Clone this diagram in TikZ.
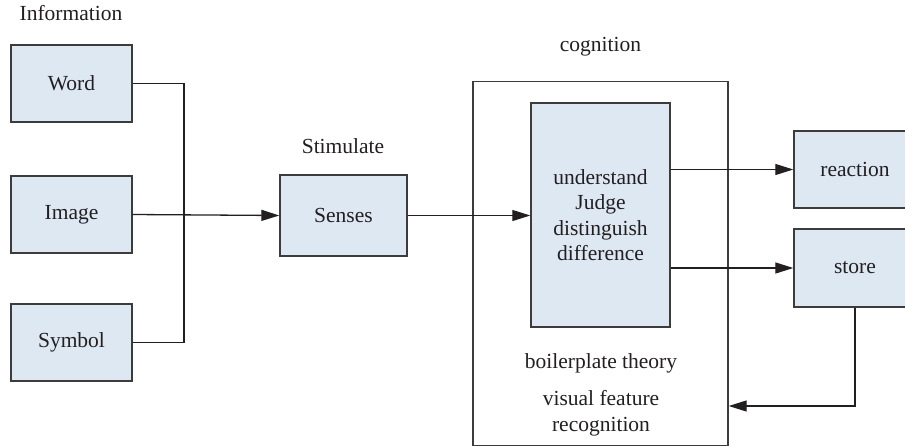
\documentclass[tikz,border=0pt]{standalone}
\usepackage{fontspec}
\setmainfont{Liberation Serif}
\usetikzlibrary{arrows.meta}
\definecolor{boxfill}{HTML}{DDE8F3}
\definecolor{boxline}{HTML}{3C3C3C}
\definecolor{txt}{HTML}{231F20}
\begin{document}
\begin{tikzpicture}[x=1pt,y=-1pt,
  every node/.style={font=\fontsize{21.5}{25.5}\selectfont, text=txt},
  bluebox/.style={draw=boxline, line width=1.4pt, fill=boxfill, minimum width=121pt, minimum height=77pt, inner sep=0pt},
  frame/.style={draw=boxline, line width=1.4pt, inner sep=0pt},
  conn/.style={draw=txt, line width=1.3pt},
  arr/.style={conn, -{Triangle[length=18pt,width=11pt]}},
  lbl/.style={inner sep=0pt, align=center}]
\useasboundingbox (0,0) rectangle (905,447);

\node[lbl] (info) at (71,13) {Information};
\node[bluebox] (word) at (71.5,83.5) {Word};
\node[bluebox] (image) at (71.5,214.5) {Image};
\node[bluebox] (symbol) at (71.5,342.5) {Symbol};

\node[lbl] (stim) at (343,146) {Stimulate};
\node[bluebox, minimum width=127pt, minimum height=81pt] (senses) at (343.5,215.5) {Senses};

\node[lbl] (coglbl) at (600.5,47) {cognition};
\node[frame, minimum width=255pt, minimum height=364pt] (cog) at (600.5,263.5) {};
\node[bluebox, minimum width=139pt, minimum height=224pt, align=center] (inner) at (600.5,215)
  {understand\\Judge\\distinguish\\difference};
\node[lbl] (boiler) at (601,363) {boilerplate theory};
\node[lbl] (visual) at (601,413) {visual feature\\recognition};

\node[bluebox, minimum width=122pt] (reaction) at (855,169.5) {reaction};
\node[bluebox, minimum width=122pt, minimum height=78pt] (store) at (855,268) {store};

\coordinate (j) at (184,215);
\draw[conn] (word.east) -| (j) |- (symbol.east);
\draw[arr] (image.east) -- (senses.west);
\draw[arr] (senses.east) -- (senses.east -| inner.west);
\draw[arr] (inner.east |- reaction) -- (reaction.west);
\draw[arr] (inner.east |- store) -- (store.west);
\coordinate (fb) at (855,406);
\draw[arr] (store.south) -- (fb) -- (fb -| cog.east);
\end{tikzpicture}
\end{document}
